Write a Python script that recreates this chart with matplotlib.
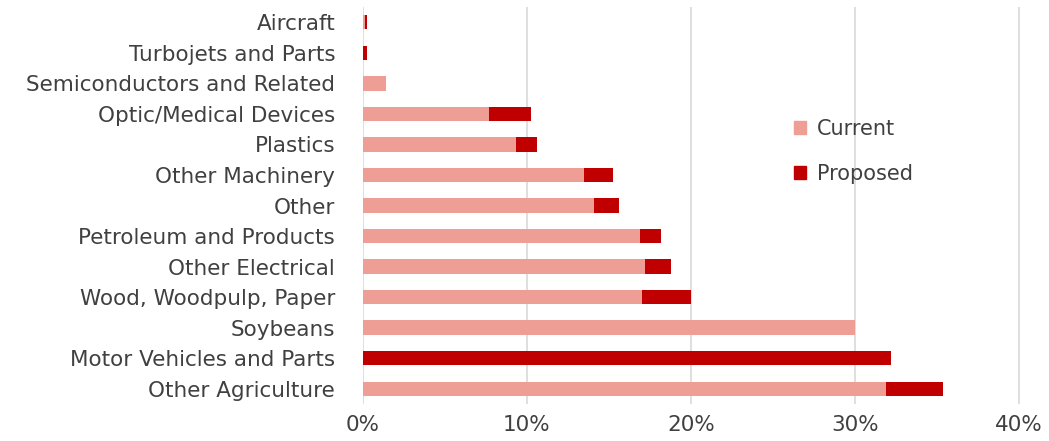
import matplotlib.pyplot as plt
from matplotlib.patches import Patch
from matplotlib.ticker import PercentFormatter

plt.rcParams['font.family'] = ['DejaVu Sans']

categories = ['Aircraft', 'Turbojets and Parts', 'Semiconductors and Related',
              'Optic/Medical Devices', 'Plastics', 'Other Machinery', 'Other',
              'Petroleum and Products', 'Other Electrical', 'Wood, Woodpulp, Paper',
              'Soybeans', 'Motor Vehicles and Parts', 'Other Agriculture']
current = [0.1, 0.0, 1.4, 7.7, 9.35, 13.5, 14.1, 16.9, 17.2, 17.0, 30.0, 0.0, 31.9]
proposed = [0.15, 0.25, 0.0, 2.55, 1.25, 1.75, 1.5, 1.3, 1.6, 3.0, 0.0, 32.2, 3.5]

c_cur = '#EE9E94'
c_pro = '#C00000'

fig = plt.figure(figsize=(10.49, 4.41), dpi=100)
ax = fig.add_axes([363 / 1049, 1 - 404 / 441, (1030 - 363) / 1049, 397 / 441])

y = list(range(len(categories)))[::-1]
ax.barh(y, current, height=0.47, color=c_cur, zorder=3)
ax.barh(y, proposed, left=current, height=0.47, color=c_pro, zorder=3)

ax.set_xlim(0, 40.7)
ax.set_ylim(-0.5, len(categories) - 0.5)
ax.set_xticks([0, 10, 20, 30, 40])
ax.xaxis.set_major_formatter(PercentFormatter(decimals=0))
ax.set_yticks(y)
ax.set_yticklabels(categories)
ax.grid(axis='x', color='#D9D9D9', linewidth=1.2, zorder=0)
for s in ax.spines.values():
    s.set_visible(False)
ax.tick_params(length=0, labelsize=15.5, colors='#404040')
ax.tick_params(axis='x', pad=8)
ax.tick_params(axis='y', pad=20)

handles = [Patch(color=c_cur, label='Current'), Patch(color=c_pro, label='Proposed')]
ax.legend(handles=handles, loc='upper left', bbox_to_anchor=(0.618, 0.765), frameon=False,
          fontsize=15, handlelength=0.6, handleheight=0.6, handletextpad=0.5,
          labelspacing=1.2, labelcolor='#404040')

fig.savefig('out.png', dpi=100)
